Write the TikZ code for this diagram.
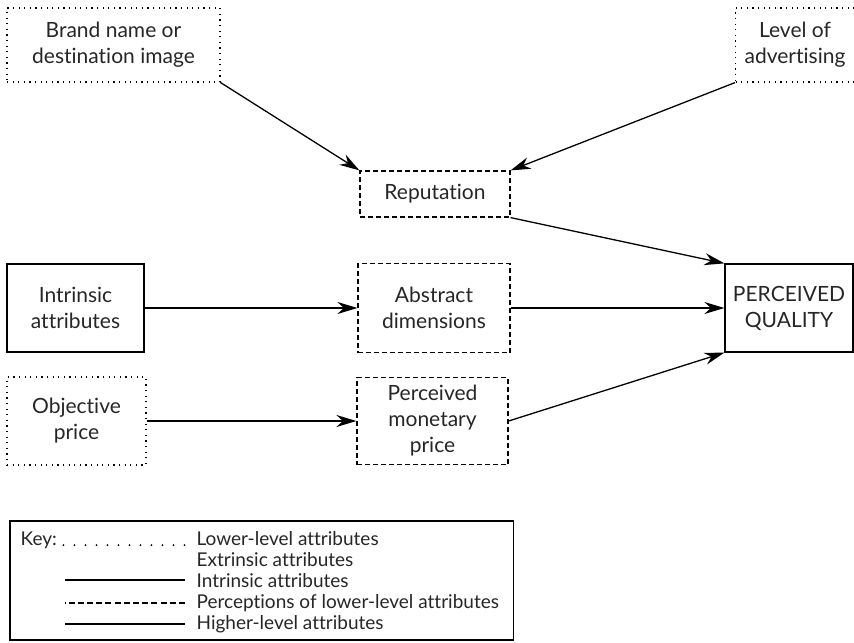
\documentclass[tikz,border=0pt]{standalone}
\usepackage{fontspec}
\setmainfont{Lato}[Ligatures=NoCommon]
\usetikzlibrary{arrows.meta, positioning}

\begin{document}
\begin{tikzpicture}[x=0.5pt, y=-0.5pt, >={Stealth[length=10pt,width=6pt]}, line width=0.65pt,
    every node/.style={align=center, text=black!85, font=\fontsize{10.5}{13}\selectfont},
    lowbox/.style={draw, line width=0.6pt, dash pattern=on 0.6pt off 2.2pt, inner sep=0pt},
    percbox/.style={draw, line width=0.6pt, dash pattern=on 2.5pt off 1.5pt, inner sep=0pt},
    hibox/.style={draw, line width=0.6pt, inner sep=0pt},
    keytext/.style={anchor=base west, inner sep=0pt, font=\fontsize{9.5}{11}\selectfont}]
  \useasboundingbox (0,0) rectangle (854,642);

  \node[lowbox, minimum width=106.5pt, minimum height=37pt] (brand) at (113.5,45) {Brand name or\\destination image};
  \node[lowbox, minimum width=70pt, minimum height=37pt, anchor=west] (advert) at (735,45) {};
  \node (advlbl) at (795,45) {Level of\\advertising};
  \node[percbox, minimum width=75pt, minimum height=23pt] (reput) at (435,194) {Reputation};
  \node[hibox, minimum width=68.5pt, minimum height=44pt] (intrin) at (75.5,308) {Intrinsic\\attributes};
  \node[percbox, minimum width=76pt, minimum height=44.5pt] (abstr) at (434,308) {Abstract\\dimensions};
  \node[hibox, minimum width=64pt, minimum height=44pt] (quality) at (789,308) {PERCEIVED\\QUALITY};
  \node[lowbox, minimum width=69.5pt, minimum height=44pt] (objprice) at (76.5,421) {Objective\\price};
  \node[percbox, minimum width=75.5pt, minimum height=43.5pt] (monprice) at (432.5,421) {Perceived\\monetary\\price};

  \draw[->] (brand.south east) -- (reput.north west);
  \draw[->] (advert.south west) -- (reput.north east);
  \draw[->] (reput.south east) -- (quality.north west);
  \draw[->] (intrin) -- (abstr);
  \draw[->] (abstr) -- (quality);
  \draw[->] (objprice) -- (monprice);
  \draw[->] (monprice.east) -- (quality.south west);

  % key
  \node[keytext] (keylbl) at (20,545) {Key:};
  \node[keytext] (k1) at (196,545) {Lower-level attributes};
  \node[keytext] (k2) at (196,566) {Extrinsic attributes};
  \node[keytext] (k3) at (196,587) {Intrinsic attributes};
  \node[keytext] (k4) at (196,608) {Perceptions of lower-level attributes};
  \node[keytext] (k5) at (196,629) {Higher-level attributes};
  \draw[line width=0.6pt] (10,521) rectangle ([xshift=7pt]k4.east |- 0,640);
  \draw[line width=1pt, line cap=round, dash pattern=on 0pt off 5.5pt] ([xshift=3pt]keylbl.base east) -- ([xshift=-3pt]k1.base west);
  \draw[line width=1pt] ([xshift=-5.5pt]k3.west) -- ++(-120,0);
  \draw[line width=1pt, dash pattern=on 3pt off 1.6pt] ([xshift=-5.5pt]k4.west) -- ++(-120,0);
  \draw[line width=1pt] ([xshift=-5.5pt]k5.west) -- ++(-120,0);
\end{tikzpicture}
\end{document}
